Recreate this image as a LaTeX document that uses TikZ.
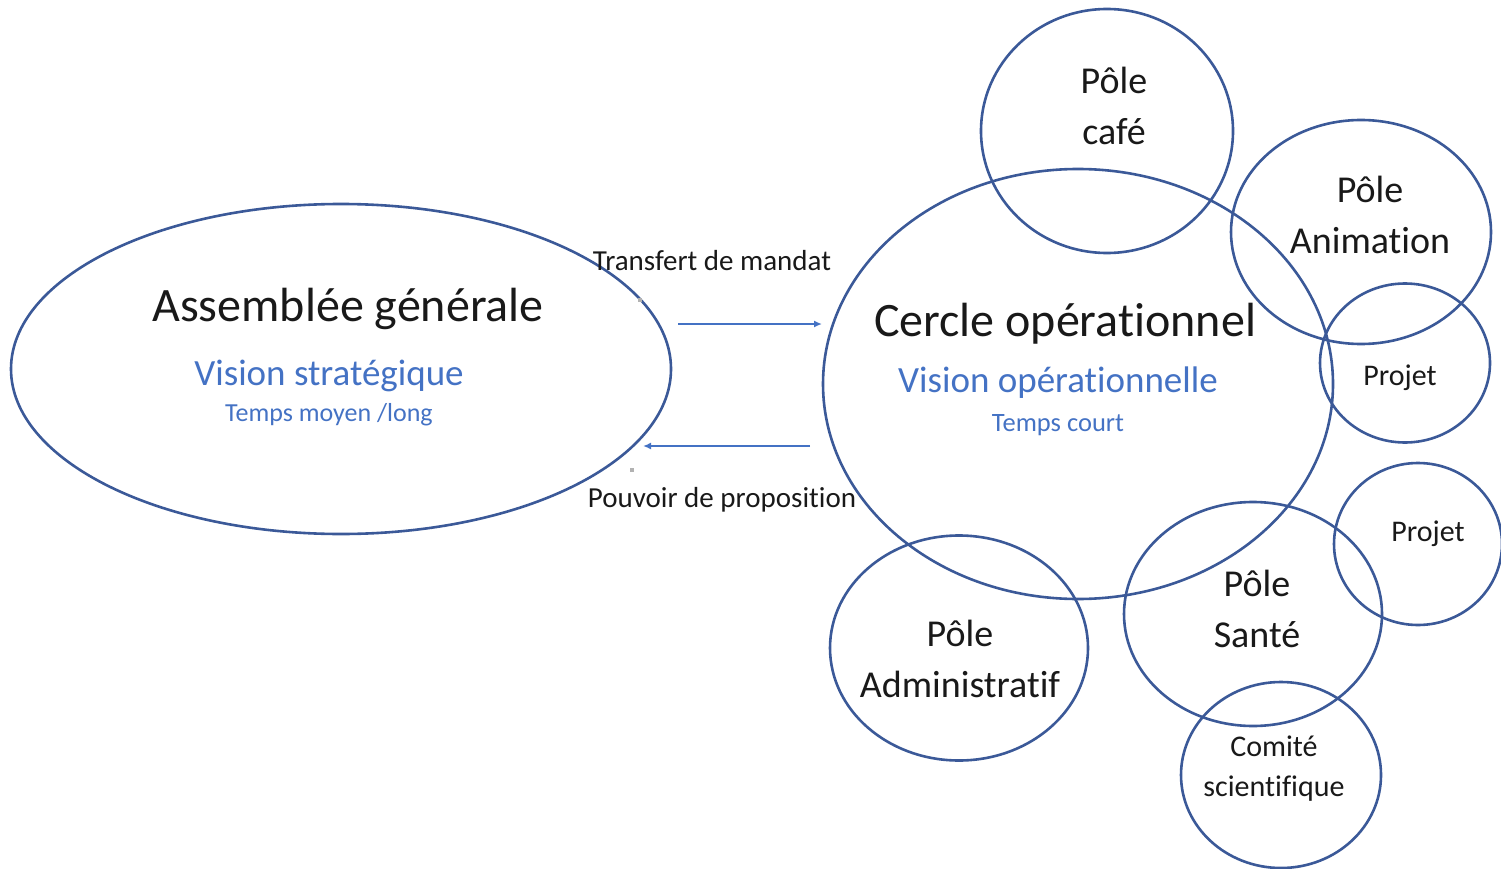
\documentclass[tikz,border=0pt]{standalone}
\usepackage{fontspec}
\setmainfont{Carlito}[Ligatures=NoCommon]
\usetikzlibrary{shapes.geometric,arrows.meta}
\definecolor{ring}{RGB}{59,89,152}
\definecolor{txtblue}{RGB}{68,114,196}
\definecolor{txtdark}{RGB}{25,25,25}
\tikzset{
  ring/.style={ellipse,draw=ring,line width=2.6pt,inner sep=0pt},
  lbl/.style={text=txtdark,align=center,inner sep=0pt},
  conn/.style={draw=txtblue,line width=2.2pt,-{Latex[length=8pt,width=7pt]}},
  fs/.style={font=\fontsize{#1}{#1}\selectfont}
}
\begin{document}
\begin{tikzpicture}[x=1pt,y=-1pt]
\useasboundingbox (0,0) rectangle (1501,869);
% ellipses
\node[ring,minimum width=660pt,minimum height=330pt] (ag) at (341,369) {};
\node[ring,minimum width=510pt,minimum height=430pt] (co) at (1078,384) {};
\node[ring,minimum width=252pt,minimum height=244pt] (cafe) at (1107,131) {};
\node[ring,minimum width=260pt,minimum height=224pt] (anim) at (1361,232) {};
\node[ring,minimum width=170pt,minimum height=159pt] (proj1) at (1405,363) {};
\node[ring,minimum width=168pt,minimum height=162pt] (proj2) at (1418,544) {};
\node[ring,minimum width=258pt,minimum height=224pt] (sante) at (1253,614) {};
\node[ring,minimum width=258pt,minimum height=225pt] (admin) at (959,648) {};
\node[ring,minimum width=200pt,minimum height=186pt] (comite) at (1281,775) {};
% texts
\node[lbl,fs=48] (agt) at (348,309) {Assemblée générale};
\node[lbl,fs=37,text=txtblue] (agv) at (329,376) {Vision stratégique};
\node[lbl,fs=26,text=txtblue] (agtm) at (329,415) {Temps moyen /long};
\node[lbl,fs=48] (cot) at (1065,324) {Cercle opérationnel};
\node[lbl,fs=37,text=txtblue] (cov) at (1058,383) {Vision opérationnelle};
\node[lbl,fs=26.5,text=txtblue] (cotm) at (1058,425) {Temps court};
\node[lbl,fs=29] (transf) at (712,261) {Transfert de mandat};
\node[lbl,fs=29] (pouv) at (722,500) {Pouvoir de proposition};
\node[lbl,font=\fontsize{38}{51}\selectfont] (cafet) at (1114,106) {Pôle\\café};
\node[lbl,font=\fontsize{38}{51}\selectfont] (animt) at (1370,215) {Pôle\\Animation};
\node[lbl,font=\fontsize{38}{51}\selectfont] (santet) at (1257,609) {Pôle\\Santé};
\node[lbl,font=\fontsize{38}{51}\selectfont] (admint) at (960,659) {Pôle\\Administratif};
\node[lbl,font=\fontsize{30}{40}\selectfont] (comitet) at (1274,769) {Comité\\scientifique};
\node[lbl,fs=30] (proj1t) at (1400,378) {Projet};
\node[lbl,fs=30] (proj2t) at (1428,534) {Projet};
% connectors
\coordinate (a1) at (678,324);
\coordinate (b1) at (822,324);
\coordinate (a2) at (810,446);
\coordinate (b2) at (643,446);
\draw[conn] (a1) -- (b1);
\draw[conn] (a2) -- (b2);
% small grey marks
\fill[gray!60] (638,298) rectangle (642,302);
\fill[gray!60] (630,468) rectangle (634,472);
\end{tikzpicture}
\end{document}
